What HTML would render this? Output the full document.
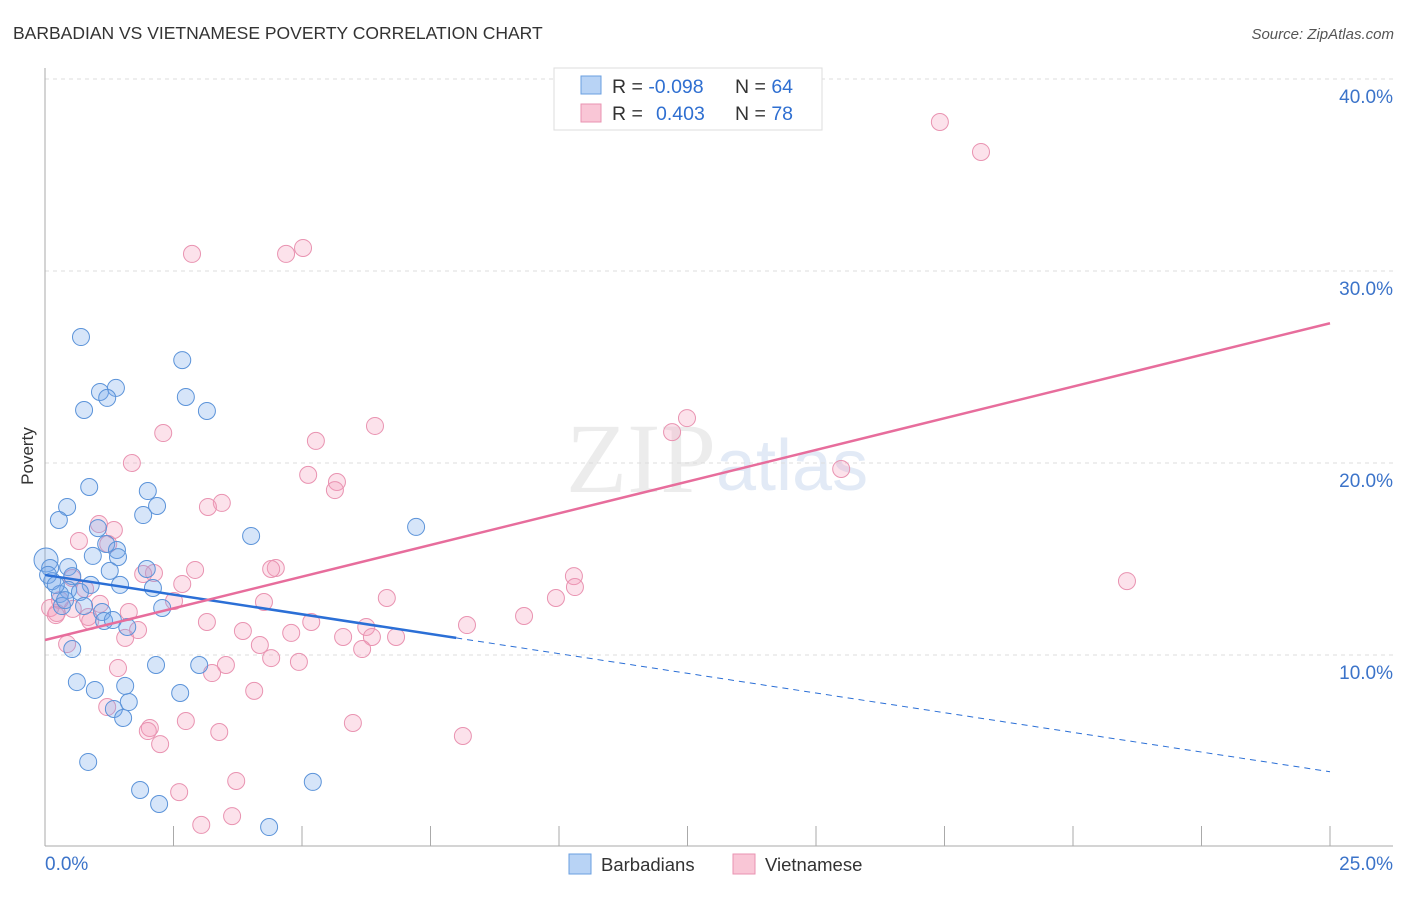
<!DOCTYPE html>
<html><head><meta charset="utf-8"><style>
body{margin:0;background:#fff;font-family:"Liberation Sans",sans-serif}
</style></head><body>
<svg width="1406" height="892" xmlns="http://www.w3.org/2000/svg" id="c" font-family="Liberation Sans, sans-serif">
<text x="13" y="39" font-size="17.5" fill="#333">BARBADIAN VS VIETNAMESE POVERTY CORRELATION CHART</text>
<text x="1394" y="39" font-size="15" fill="#555" font-style="italic" text-anchor="end">Source: ZipAtlas.com</text>
<text x="716" y="492" font-size="100" fill="#ececec" text-anchor="end" font-family="Liberation Serif, serif">ZIP</text>
<text x="716" y="490" font-size="72" fill="#e2eaf6">atlas</text>
<text transform="translate(33,456) rotate(-90)" font-size="17" fill="#333" text-anchor="middle">Poverty</text>
<g id="grid"></g><g id="ticks"></g><g id="pts"></g><g id="trend"></g>
<rect x="554" y="68" width="268" height="62" fill="#fff" stroke="#ddd"/>
<rect x="581" y="76" width="20" height="18" fill="#b8d3f5" stroke="#6a9fe0"/>
<rect x="581" y="104" width="20" height="18" fill="#f9c6d6" stroke="#e993b1"/>
<text x="612" y="93" font-size="19.5" fill="#333">R = <tspan fill="#2f6fd1">-0.098</tspan><tspan x="735">N = </tspan><tspan fill="#2f6fd1">64</tspan></text>
<text x="612" y="120" font-size="19.5" fill="#333">R = <tspan x="656" fill="#2f6fd1">0.403</tspan><tspan x="735">N = </tspan><tspan fill="#2f6fd1">78</tspan></text>
<rect x="569" y="854" width="22" height="20" fill="#b8d3f5" stroke="#6a9fe0"/>
<text x="601" y="871" font-size="18.5" fill="#333">Barbadians</text>
<rect x="733" y="854" width="22" height="20" fill="#f9c6d6" stroke="#e993b1"/>
<text x="765" y="871" font-size="18.5" fill="#333">Vietnamese</text>
</svg>
<script>
const yTicks=[10,20,30,40];
const xTickLabels=["0.0%","25.0%"];
const blueX=[0.70,2.67,1.07,1.38,1.21,2.74,0.76,3.15,0.86,2.00,0.43,2.18,0.27,1.91,1.03,4.01,7.22,1.19,1.40,0.93,1.42,0.02,0.10,0.45,1.98,1.26,0.53,0.14,0.89,1.46,2.10,0.45,0.68,0.29,0.33,0.76,2.28,1.11,1.15,1.60,1.32,0.53,2.16,3.00,0.62,0.97,1.56,2.63,1.63,1.34,1.52,0.84,1.85,2.22,4.36,5.21,0.06,0.21,0.39];
const blueY=[26.56,25.36,23.70,23.91,23.39,23.44,22.76,22.71,18.75,18.54,17.71,17.76,17.03,17.29,16.61,16.20,16.67,15.78,15.47,15.16,15.10,14.95,14.53,14.58,14.48,14.38,14.11,13.85,13.65,13.65,13.49,13.39,13.28,13.18,12.55,12.55,12.45,12.24,11.77,11.46,11.82,10.31,9.48,9.48,8.59,8.18,8.39,8.02,7.55,7.19,6.72,4.43,2.97,2.24,1.04,3.39,14.17,13.65,12.86];
const pinkX=[17.41,18.21,2.86,4.69,5.02,2.30,6.42,5.27,1.69,12.49,12.20,15.49,5.12,5.68,5.64,3.44,3.17,1.05,1.34,0.66,1.23,4.49,4.40,2.92,2.12,1.91,0.53,10.29,10.31,21.05,2.67,9.94,6.65,4.26,2.51,1.07,1.63,0.54,0.23,0.84,0.88,3.15,5.18,8.21,9.32,6.25,1.81,3.85,4.79,1.56,6.36,6.83,5.80,6.17,4.18,0.43,4.40,4.94,3.52,1.42,3.25,4.07,1.21,2.04,2.74,2.00,3.39,5.99,8.13,2.24,3.72,2.61,3.64,3.04,0.10,0.29,0.21,0.78];
const pinkY=[37.76,36.20,30.89,30.89,31.20,21.56,21.93,21.15,20.00,22.34,21.61,19.69,19.38,19.01,18.59,17.92,17.71,16.82,16.51,15.94,15.78,14.53,14.48,14.43,14.27,14.22,14.01,14.11,13.54,13.85,13.70,12.97,12.97,12.76,12.81,12.66,12.24,12.40,12.19,11.98,11.77,11.72,11.72,11.56,12.03,11.46,11.30,11.25,11.15,10.89,10.94,10.94,10.94,10.31,10.52,10.57,9.84,9.64,9.48,9.32,9.06,8.13,7.29,6.20,6.56,6.04,5.99,6.46,5.78,5.36,3.44,2.86,1.61,1.15,12.45,12.86,12.08,13.44];
const blueTrend=[14.17,-0.410];
const pinkTrend=[10.78,0.660];
const blueSolidEnd=8;
const NS="http://www.w3.org/2000/svg";
const X=v=>45+v*51.4, Y=v=>847-v*19.2;
function mk(tag,attrs,parent){const e=document.createElementNS(NS,tag);for(const k in attrs)e.setAttribute(k,attrs[k]);document.getElementById(parent).appendChild(e);return e;}
yTicks.forEach(t=>{
 const l=mk('line',{x1:45,x2:1393,y1:Y(t),y2:Y(t),stroke:'#ddd','stroke-dasharray':'4,4'},'grid');
 
 
 const tx=mk('text',{x:1393,y:Y(t)+24,'font-size':19,fill:'#3b73c9','text-anchor':'end'},'ticks');
 tx.textContent=t.toFixed(1)+'%';
 
 
});
const ax=mk('line',{x1:45,x2:45,y1:68,y2:846,stroke:'#aaa'},'ticks');


const bx=mk('line',{x1:45,x2:1393,y1:846,y2:846,stroke:'#aaa'},'ticks');


for(let i=0;i<=10;i++){const t=mk('line',{x1:X(i*2.5),x2:X(i*2.5),y1:826,y2:846,stroke:'#aaa'},'ticks');
 
 }
const xl0=mk('text',{x:45,y:870,'font-size':19,fill:'#3b73c9'},'ticks');xl0.textContent=xTickLabels[0];


const xl1=mk('text',{x:1393,y:870,'font-size':19,fill:'#3b73c9','text-anchor':'end'},'ticks');xl1.textContent=xTickLabels[1];


pinkX.forEach((v,i)=>{const c=mk('circle',{cx:X(v),cy:Y(pinkY[i]),r:8.5,fill:'rgba(244,160,190,0.3)',stroke:'#e993b1','stroke-width':1},'pts');
 
 });
blueX.forEach((v,i)=>{const c=mk('circle',{cx:X(v),cy:Y(blueY[i]),r:(i===21?12:8.5),fill:'rgba(120,170,235,0.3)',stroke:'#5b93d9','stroke-width':1},'pts');
 
 });
const bt=x=>blueTrend[0]+blueTrend[1]*x, pt=x=>pinkTrend[0]+pinkTrend[1]*x;
const l1=mk('line',{x1:X(0),y1:Y(bt(0)),x2:X(blueSolidEnd),y2:Y(bt(blueSolidEnd)),stroke:'#2b6fd6','stroke-width':2.5},'trend');


const l2=mk('line',{x1:X(blueSolidEnd),y1:Y(bt(blueSolidEnd)),x2:X(25),y2:Y(bt(25)),stroke:'#2b6fd6','stroke-width':1,'stroke-dasharray':'6,5'},'trend');


const l3=mk('line',{x1:X(0),y1:Y(pt(0)),x2:X(25),y2:Y(pt(25)),stroke:'#e76d9c','stroke-width':2.5},'trend');


</script>
</body></html>
